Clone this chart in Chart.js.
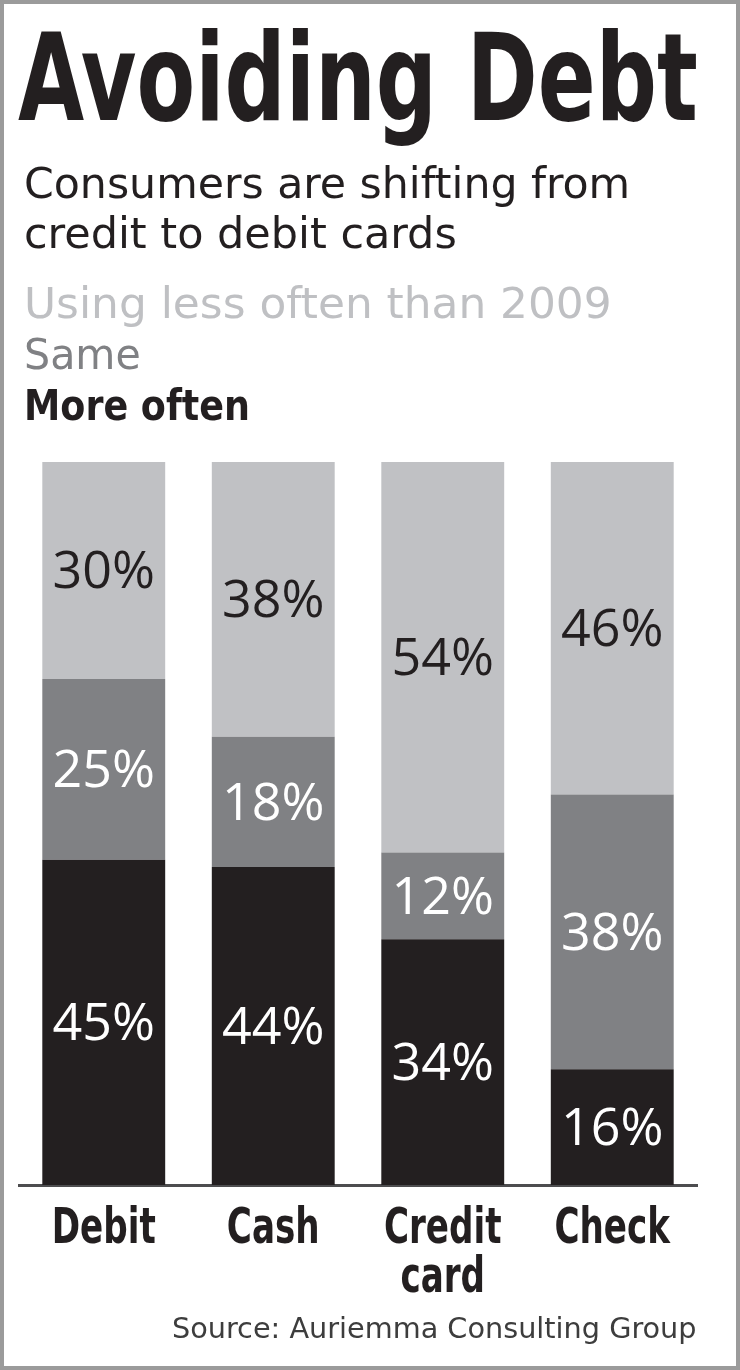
<!DOCTYPE html>
<html>
<head>
<meta charset="utf-8">
<script src="https://cdn.jsdelivr.net/npm/chart.js@4.4.0/dist/chart.umd.min.js"></script>
<style>
  html, body { margin: 0; padding: 0; background: #fff; }
  #page { position: relative; width: 740px; height: 1370px; overflow: hidden; background: #fff; }
  #chart { position: absolute; left: 0; top: 0; }
  .frame { position: absolute; left: 0; top: 0; width: 740px; height: 1370px; box-sizing: border-box; border: 4px solid #9b9b9b; pointer-events: none; }
  .txt { position: absolute; left: 0; top: 0; white-space: nowrap; line-height: 1; transform-origin: 0 0;
         font-family: "Liberation Sans Narrow", "DejaVu Sans Condensed", "Roboto Condensed", sans-serif; }
</style>
</head>
<body>
<div id="page">
  <canvas id="chart" width="740" height="1370"></canvas>

  <div class="txt" data-x="18" data-base="120" data-w="680" style="font-size:121px;font-weight:bold;color:#231f20;">Avoiding Debt</div>
  <div class="txt" data-x="24" data-base="198" data-w="606" style="font-size:42px;color:#231f20;">Consumers are shifting from</div>
  <div class="txt" data-x="24" data-base="248" data-w="433" style="font-size:42px;color:#231f20;">credit to debit cards</div>
  <div class="txt" data-x="24" data-base="318" data-w="588" style="font-size:43px;color:#bfc0c3;">Using less often than 2009</div>
  <div class="txt" data-x="24" data-base="369" data-w="117" style="font-size:43px;color:#808184;">Same</div>
  <div class="txt" data-x="24" data-base="420" data-w="226" style="font-size:42px;font-weight:bold;color:#231f20;">More often</div>
  <div class="txt" data-x="172" data-base="1338" data-w="524" style="font-size:29px;color:#3d3d3d;">Source: Auriemma Consulting Group</div>

  <div class="frame"></div>
</div>

<script>
  const categories = ["Debit", "Cash", ["Credit", "card"], "Check"];
  const moreOften = [45, 44, 34, 16];
  const same = [25, 18, 12, 38];
  const lessOften = [30, 38, 54, 46];

  const NARROW = '"Liberation Sans Narrow", "DejaVu Sans Condensed", "Roboto Condensed", sans-serif';

  // put each text line on its baseline and squeeze it to the measured width
  document.querySelectorAll(".txt").forEach(el => {
    const probe = document.createElement("span");
    probe.style.cssText = "display:inline-block;width:0;height:0;vertical-align:baseline";
    el.appendChild(probe);
    const off = probe.offsetTop;
    const natural = el.offsetWidth;
    el.style.left = el.dataset.x + "px";
    el.style.top = (+el.dataset.base - off) + "px";
    el.style.transform = "scaleX(" + (+el.dataset.w / natural) + ")";
  });

  const valueLabels = {
    id: "valueLabels",
    afterDatasetsDraw(chart) {
      const ctx = chart.ctx;
      ctx.save();
      ctx.font = '52px "Open Sans", sans-serif';
      ctx.textAlign = "center";
      ctx.textBaseline = "alphabetic";
      chart.data.datasets.forEach((ds, i) => {
        chart.getDatasetMeta(i).data.forEach((bar, j) => {
          const c = bar.getCenterPoint();
          ctx.fillStyle = ds.labelColor;
          ctx.fillText(ds.data[j] + "%", c.x, c.y + 18);
        });
      });
      ctx.restore();
    }
  };

  // category names under the bars, condensed like the print face
  const categoryLabels = {
    id: "categoryLabels",
    afterDraw(chart) {
      const ctx = chart.ctx;
      const xs = chart.scales.x;
      ctx.save();
      ctx.font = "bold 50px " + NARROW;
      ctx.fillStyle = "#231f20";
      ctx.textAlign = "center";
      ctx.textBaseline = "alphabetic";
      chart.data.labels.forEach((lab, i) => {
        const cx = xs.getPixelForTick(i);
        [].concat(lab).forEach((t, k) => {
          ctx.save();
          ctx.translate(cx, xs.top + 58 + k * 49);
          ctx.scale(0.76, 1);
          ctx.fillText(t, 0, 0);
          ctx.restore();
        });
      });
      ctx.restore();
    }
  };

  new Chart(document.getElementById("chart"), {
    type: "bar",
    data: {
      labels: categories,
      datasets: [
        { label: "More often", data: moreOften, backgroundColor: "#231f20", labelColor: "#ffffff" },
        { label: "Same", data: same, backgroundColor: "#808184", labelColor: "#ffffff" },
        { label: "Using less often than 2009", data: lessOften, backgroundColor: "#c0c1c4", labelColor: "#231f20" },
      ],
    },
    options: {
      responsive: false,
      animation: false,
      layout: { padding: { top: 462, left: 19, right: 43, bottom: 0 } },
      datasets: { bar: { categoryPercentage: 1, barPercentage: 0.725, borderWidth: 0 } },
      plugins: { legend: { display: false }, tooltip: { enabled: false } },
      scales: {
        x: {
          stacked: true,
          grid: { display: false, drawTicks: false },
          border: { display: true, color: "#4d4d4f", width: 3 },
          ticks: { display: false },
          afterFit(scale) { scale.height = 185; },
        },
        y: { stacked: true, display: false, min: 0, max: 100 },
      },
    },
    plugins: [valueLabels, categoryLabels],
  });
</script>
</body>
</html>
